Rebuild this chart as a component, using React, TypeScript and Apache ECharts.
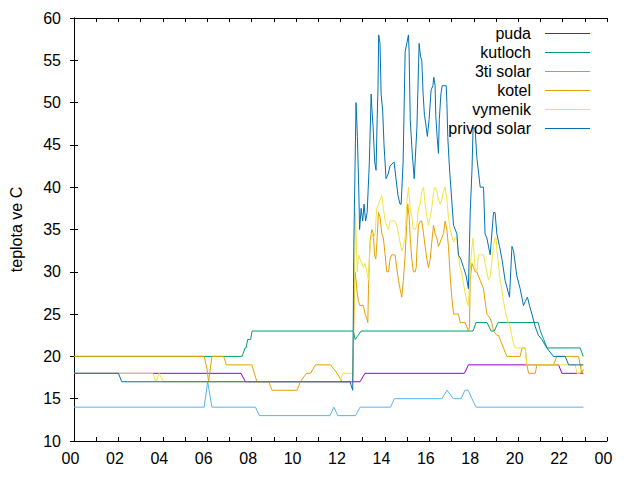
import React, { useEffect, useRef } from "react";
import * as echarts from "echarts";

// Time of day in hours, temperature in °C
const puda: [number, number][] = [
  [0, 18], [7.52, 18], [7.72, 17], [12.88, 17], [13.1, 18], [17.58, 18], [17.76, 19],
  [21.82, 19], [21.97, 18], [22.94, 18],
];

const kutloch: [number, number][] = [
  [0, 20], [7.57, 20], [7.7, 21], [7.75, 21], [7.82, 22], [7.95, 22], [8.02, 23],
  [12.58, 23], [12.66, 22], [12.93, 23], [17.97, 23], [18.1, 24], [18.6, 24], [18.78, 23],
  [18.92, 23], [19.1, 24], [20.9, 24], [21.0, 23], [21.15, 22], [21.3, 21], [22.79, 21],
  [22.93, 20],
];

const tretiSolar: [number, number][] = [
  [0, 14], [5.86, 14], [6.02, 17], [6.21, 14], [8.17, 14], [8.35, 13], [11.53, 13],
  [11.7, 14], [11.88, 13], [12.68, 13], [12.88, 14], [14.25, 14], [14.43, 15], [16.56, 15],
  [16.8, 16], [17.08, 15], [17.43, 15], [17.6, 16], [17.75, 16], [17.92, 15], [18.1, 14],
  [22.94, 14],
];

const kotel: [number, number][] = [
  [0, 20], [5.86, 20], [5.99, 18.5], [6.06, 17], [6.21, 20], [6.74, 20], [6.86, 19],
  [8.01, 19], [8.12, 18], [8.24, 17], [8.77, 17], [8.92, 16], [10.05, 16], [10.19, 17],
  [10.47, 18], [10.65, 18], [10.87, 19], [11.55, 19], [11.7, 18.5], [11.85, 18], [12.07, 17],
  [12.55, 17], [12.58, 21], [12.65, 30], [12.7, 29], [12.75, 27.5], [12.81, 26.5], [12.88, 26],
  [13.03, 26], [13.11, 25], [13.18, 24.5], [13.23, 24], [13.26, 28], [13.3, 31.5], [13.33, 33.5],
  [13.41, 35], [13.48, 34.5], [13.53, 32], [13.59, 31.5], [13.64, 33.5], [13.71, 37],
  [13.78, 36.5], [13.86, 34.5], [13.93, 34], [14.01, 32], [14.08, 30], [14.16, 30],
  [14.23, 31.5], [14.31, 32], [14.46, 32], [14.53, 30.5], [14.61, 29], [14.68, 28],
  [14.76, 27], [14.83, 29], [14.91, 32], [14.98, 35.5], [15.03, 38], [15.09, 36.5],
  [15.14, 34], [15.21, 31.5], [15.28, 30], [15.36, 30], [15.41, 30.5], [15.44, 32.5],
  [15.51, 35.5], [15.59, 36], [15.66, 36], [15.74, 34.5], [15.81, 33], [15.89, 31.5],
  [15.96, 30.5], [16.04, 31.5], [16.11, 33.5], [16.19, 35.5], [16.26, 34.5], [16.34, 34],
  [16.41, 33], [16.49, 33.5], [16.56, 34], [16.64, 34.5], [16.71, 36], [16.79, 35],
  [16.86, 33], [16.94, 29.5], [17.01, 27], [17.09, 25], [17.31, 25], [17.39, 24], [17.61, 24],
  [17.69, 23.5], [17.76, 23], [17.81, 23.5], [17.84, 29], [17.92, 31], [17.99, 30.5],
  [18.06, 30], [18.14, 30], [18.21, 29.5], [18.29, 29], [18.36, 28.5], [18.44, 28],
  [18.51, 26.5], [18.59, 25], [18.74, 24.5], [18.81, 24], [18.89, 23], [19.04, 22.5],
  [19.11, 22.5], [19.19, 22], [19.26, 21.5], [19.34, 21], [19.41, 20.5], [19.49, 20],
  [20.09, 20], [20.17, 21], [20.32, 21], [20.39, 19], [20.47, 18], [20.77, 18], [20.84, 19],
  [21.59, 19], [21.74, 20], [22.72, 20], [22.79, 19], [22.87, 18], [22.94, 18.5],
];

const vymenik: [number, number][] = [
  [0, 18], [3.55, 18], [3.7, 17], [3.83, 18], [4.03, 17], [11.98, 17], [12.1, 18],
  [12.55, 18], [12.68, 37], [12.75, 30], [12.81, 32], [12.88, 31.5], [13.03, 30.5],
  [13.11, 31], [13.18, 30], [13.26, 29], [13.33, 33], [13.41, 34.5], [13.48, 34], [13.56, 34.5],
  [13.63, 37.5], [13.71, 38], [13.78, 38.5], [13.86, 39], [13.93, 37.5], [14.01, 36],
  [14.08, 35.5], [14.16, 35], [14.23, 36], [14.31, 36], [14.46, 36], [14.53, 35.5],
  [14.61, 34.5], [14.68, 33.5], [14.76, 32.5], [14.83, 33], [14.91, 34], [14.98, 38],
  [15.06, 40], [15.14, 37.5], [15.21, 36.5], [15.28, 35], [15.36, 35], [15.44, 35.5],
  [15.51, 37.5], [15.59, 38], [15.66, 39.5], [15.74, 40], [15.81, 38], [15.89, 36.5],
  [15.96, 35.5], [16.04, 36.5], [16.11, 37.5], [16.19, 39.5], [16.26, 40], [16.34, 39.5],
  [16.41, 38.5], [16.49, 38], [16.56, 38.5], [16.64, 39.5], [16.71, 40], [16.79, 38.5],
  [16.86, 36.5], [16.94, 35], [17.09, 33.5], [17.16, 34], [17.24, 34], [17.31, 32],
  [17.39, 30.5], [17.46, 30], [17.54, 28.5], [17.61, 27.5], [17.69, 26.5], [17.76, 26],
  [17.81, 28.5], [17.87, 31.5], [17.96, 34], [17.99, 33], [18.06, 30.5], [18.14, 30],
  [18.21, 32], [18.29, 32], [18.44, 32], [18.51, 31], [18.59, 30], [18.66, 29], [18.74, 29.5],
  [18.81, 31], [18.89, 33], [18.96, 34], [19.01, 34], [19.04, 32.5], [19.11, 31], [19.19, 29],
  [19.26, 28], [19.34, 26.5], [19.41, 25.5], [19.49, 24.5], [19.56, 24], [19.64, 23.5],
  [19.71, 22.5], [19.79, 21.5], [19.86, 21], [20.32, 21], [20.39, 19], [22.57, 19],
  [22.65, 18], [22.79, 18], [22.87, 19], [22.94, 19],
];

const privodSolar: [number, number][] = [
  [0, 18], [2.0, 18], [2.15, 17], [12.43, 17], [12.55, 16], [12.6, 33], [12.7, 50],
  [12.76, 46], [12.82, 40], [12.86, 35], [12.93, 37.5], [13.0, 36], [13.06, 38], [13.13, 36],
  [13.2, 37], [13.3, 43], [13.38, 51], [13.42, 49], [13.47, 47], [13.54, 43], [13.6, 42],
  [13.65, 48], [13.69, 52], [13.72, 58], [13.78, 57], [13.83, 51], [13.9, 49], [13.96, 45],
  [14.05, 41], [14.14, 41.5], [14.23, 42.5], [14.41, 43], [14.5, 41], [14.59, 39],
  [14.68, 38], [14.73, 38], [14.82, 43], [14.91, 56], [15.06, 58], [15.09, 56], [15.14, 48],
  [15.23, 44], [15.32, 41], [15.44, 47], [15.48, 51], [15.54, 57], [15.6, 55.5], [15.66, 55],
  [15.72, 51], [15.78, 48.5], [15.84, 47.5], [15.91, 46], [15.99, 48], [16.08, 51.5],
  [16.16, 52], [16.2, 53], [16.26, 52], [16.29, 48.5], [16.35, 46], [16.41, 44], [16.45, 48],
  [16.52, 51], [16.58, 52], [16.76, 52], [16.79, 50], [16.83, 46], [16.89, 43], [16.94, 41],
  [17.09, 35.5], [17.24, 34.5], [17.31, 32], [17.42, 31.5], [17.54, 30.5], [17.66, 29.5],
  [17.76, 28], [17.84, 37], [17.92, 42], [17.97, 47], [18.06, 47], [18.14, 43.5], [18.29, 40],
  [18.44, 40], [18.51, 34.5], [18.59, 34], [18.74, 32], [18.89, 37], [18.96, 37],
  [19.04, 34.5], [19.16, 33], [19.27, 31.5], [19.41, 29], [19.61, 27], [19.72, 33],
  [19.79, 32.5], [19.94, 29.5], [20.09, 28], [20.24, 26], [20.32, 26.5], [20.42, 27],
  [20.51, 26], [20.62, 25], [20.77, 23.5], [20.91, 22.5], [21.07, 22], [21.29, 21],
  [21.59, 20], [22.12, 20], [22.27, 19], [22.93, 19],
];

const seriesDefs: { name: string; color: string; data: [number, number][] }[] = [
  { name: "puda", color: "#9400d3", data: puda },
  { name: "kutloch", color: "#009e73", data: kutloch },
  { name: "3ti solar", color: "#56b4e9", data: tretiSolar },
  { name: "kotel", color: "#e69f00", data: kotel },
  { name: "vymenik", color: "#f0e442", data: vymenik },
  { name: "privod solar", color: "#0072b2", data: privodSolar },
];

const FONT = "'Liberation Sans', Arial, sans-serif";

// thin horizontal bar used as the legend key (kept at its aspect ratio)
const LEGEND_LINE = "path://M0,0H45V1H0Z";

const hourLabel = (v: number) => {
  if (v % 2 !== 0) return "";
  const h = v % 24;
  return h < 10 ? "0" + h : String(h);
};

export default function App() {
  const ref = useRef<HTMLDivElement>(null);

  useEffect(() => {
    if (!ref.current) return;
    const chart = echarts.init(ref.current, undefined, { renderer: "svg" });

    const axisLine = { show: true, lineStyle: { color: "#000", width: 1 } };
    const tick = { show: true, inside: true, length: 4, lineStyle: { color: "#000" } };

    chart.setOption({
      animation: false,
      backgroundColor: "#fff",
      grid: { left: 74, right: 33, top: 18, bottom: 39, outerBoundsMode: "none" },
      legend: {
        orient: "vertical",
        right: 50,
        top: 25.5,
        padding: 0,
        align: "right",
        itemWidth: 45,
        itemHeight: 14,
        itemGap: 3,
        icon: LEGEND_LINE,
        symbolKeepAspect: true,
        textStyle: {
          fontFamily: FONT,
          fontSize: 16,
          color: "#000",
          padding: [0, 9, 0, 0],
        },
        data: seriesDefs.map((s) => s.name),
      },
      xAxis: [
        {
          type: "value",
          min: 0,
          max: 24,
          interval: 1,
          position: "bottom",
          axisLine,
          axisTick: tick,
          splitLine: { show: false },
          axisLabel: {
            formatter: hourLabel,
            fontFamily: FONT,
            fontSize: 16,
            color: "#000",
            margin: 9,
            padding: [0, 7, 0, 0],
            showMinLabel: true,
            showMaxLabel: true,
          },
        },
        {
          type: "value",
          min: 0,
          max: 24,
          interval: 1,
          position: "top",
          axisLine,
          axisTick: tick,
          splitLine: { show: false },
          axisLabel: { show: false },
        },
      ],
      yAxis: [
        {
          type: "value",
          min: 10,
          max: 60,
          interval: 5,
          position: "left",
          name: "teplota ve C",
          nameLocation: "middle",
          nameRotate: 90,
          nameGap: 50,
          nameTextStyle: { fontFamily: FONT, fontSize: 16, color: "#000" },
          axisLine,
          axisTick: tick,
          splitLine: { show: false },
          axisLabel: { fontFamily: FONT, fontSize: 16, color: "#000", margin: 13 },
        },
        {
          type: "value",
          min: 10,
          max: 60,
          interval: 5,
          position: "right",
          axisLine,
          axisTick: tick,
          splitLine: { show: false },
          axisLabel: { show: false },
        },
      ],
      series: seriesDefs.map((s) => ({
        name: s.name,
        type: "line",
        xAxisIndex: 0,
        yAxisIndex: 0,
        data: s.data,
        symbol: "none",
        showSymbol: false,
        color: s.color,
        itemStyle: { color: s.color },
        lineStyle: { color: s.color, width: 1 },
        emphasis: { disabled: true },
      })),
    });

    return () => chart.dispose();
  }, []);

  return (
    <div
      ref={ref}
      style={{ position: "fixed", left: 0, top: 0, width: 640, height: 480 }}
    />
  );
}
